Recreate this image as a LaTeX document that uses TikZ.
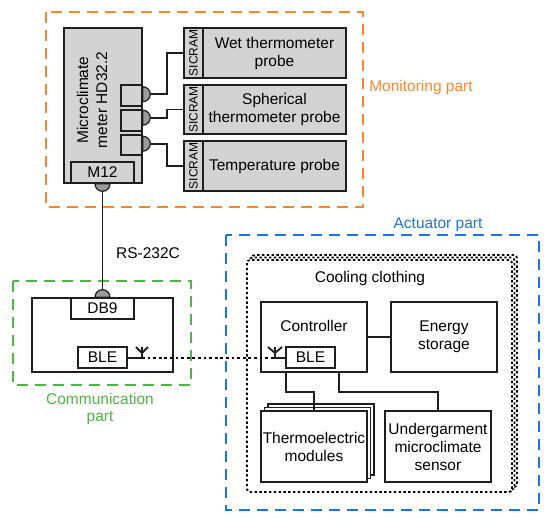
\documentclass[tikz,border=0pt]{standalone}
\usepackage{fontspec}
\setmainfont{Liberation Sans}
\usetikzlibrary{calc}
\definecolor{morange}{RGB}{247,135,45}
\definecolor{mgreen}{RGB}{75,182,65}
\definecolor{mblue}{RGB}{30,118,212}
\definecolor{boxgray}{RGB}{211,211,211}
\definecolor{plug}{RGB}{155,155,155}
\definecolor{ink}{RGB}{30,30,30}
\tikzset{
  blk/.style={draw=ink, line width=1.6pt, inner sep=0pt, align=center},
  gbox/.style={blk, fill=boxgray},
  wbox/.style={blk, fill=white},
  txt/.style={inner sep=0pt, align=center},
  sic/.style={gbox, font=\fontsize{12}{13}\selectfont},
  grp/.style={line width=2pt, dash pattern=on 11pt off 7pt},
  wire/.style={draw=ink, line width=1.8pt},
  radio/.style={draw=black, line width=1.8pt, dash pattern=on 2.8pt off 2.8pt},
  cloth/.style={draw=black, line width=1.8pt, dash pattern=on 2.4pt off 2.4pt, rounded corners=3pt, fill=white},
  plugfill/.style={fill=plug, draw=ink, line width=1.2pt},
}
\begin{document}
\begin{tikzpicture}[x=1pt, y=-1pt, font=\fontsize{15.5}{18}\selectfont]
\useasboundingbox (0,0) rectangle (550,523);

% ---------------- group frames
\draw[grp, draw=morange] (46,12) rectangle (363,207);
\draw[grp, draw=mgreen] (13,281) rectangle (191,385);
\draw[grp, draw=mblue] (226,235) rectangle (539,510);

\node[txt, text=morange] (monlbl) at (421,87) {Monitoring part};
\node[txt, text=mgreen, font=\fontsize{15.5}{17}\selectfont] (comlbl) at (100,409) {Communication\\part};
\node[txt, text=mblue] (actlbl) at (438,225) {Actuator part};

% ---------------- monitoring part
\node[gbox, minimum width=78pt, minimum height=155pt] (meter) at (103,105.5) {};
\node[txt, rotate=90, font=\fontsize{15.5}{19}\selectfont] (metertxt) at (92,100) {Microclimate\\meter HD32.2};
\node[gbox, minimum width=63pt, minimum height=21pt] (m12) at (102.5,172.5) {M12};

\node[gbox, minimum width=21pt, minimum height=21pt] (c1) at (131.5,95.5) {};
\node[gbox, minimum width=21pt, minimum height=21pt] (c2) at (131.5,120.5) {};
\node[gbox, minimum width=21pt, minimum height=20pt] (c3) at (131.5,145) {};

\node[gbox, minimum width=143pt, minimum height=50pt] (p1) at (274.5,53) {Wet thermometer\\probe};
\node[gbox, minimum width=143pt, minimum height=49pt] (p2) at (274.5,109.5) {Spherical\\thermometer probe};
\node[gbox, minimum width=143pt, minimum height=50pt] (p3) at (274.5,166) {Temperature probe};
\node[sic, minimum width=19pt, minimum height=50pt] (st1) at (193.5,53) {};
\node[sic, minimum width=19pt, minimum height=49pt] (st2) at (193.5,109.5) {};
\node[sic, minimum width=19pt, minimum height=50pt] (st3) at (193.5,166) {};
\node[txt, rotate=90, font=\fontsize{12}{13}\selectfont] at (st1) {SICRAM};
\node[txt, rotate=90, font=\fontsize{12}{13}\selectfont] at (st2) {SICRAM};
\node[txt, rotate=90, font=\fontsize{12}{13}\selectfont] at (st3) {SICRAM};

% plugs on the meter
\draw[plugfill] (c1.north east) ++(0,2.5) arc[start angle=-90, end angle=90, radius=7.5] -- cycle;
\draw[plugfill] (c2.north east) ++(0,1) arc[start angle=-90, end angle=90, radius=7.5] -- cycle;
\draw[plugfill] (c3.north east) ++(0,2) arc[start angle=-90, end angle=90, radius=7.5] -- cycle;
\coordinate (s1) at ($(c1.north east)+(7.5,10)$);
\coordinate (s2) at ($(c2.north east)+(7.5,8.5)$);
\coordinate (s3) at ($(c3.north east)+(7.5,9.5)$);
\draw[wire] (s1) -- ++(16.5,0) |- (st1.west);
\draw[wire] (s2) -- ++(16.5,0) |- (st2.west);
\draw[wire] (s3) -- ++(16.5,0) |- (st3.west);

% ---------------- communication part
\node[wbox, minimum width=141pt, minimum height=74pt] (comm) at (102.5,335) {};
\node[wbox, minimum width=63pt, minimum height=21pt] (db9) at (102.5,308.5) {DB9};
\node[wbox, minimum width=49pt, minimum height=21pt] (ble1) at (102.5,357.5) {BLE};

\draw[plugfill] ($(m12.south)+(-7.5,0)$) arc[start angle=180, end angle=0, radius=7.5] -- cycle;
\draw[plugfill] ($(db9.north)+(-7.5,0)$) arc[start angle=180, end angle=360, radius=7.5] -- cycle;
\coordinate (m12tip) at ($(m12.south)+(0,7.5)$);
\coordinate (db9tip) at ($(db9.north)+(0,-7.5)$);
\draw[wire] (m12tip) -- (db9tip);
\node[txt] (rs) at (148,253) {RS-232C};

% antenna of communication part
\coordinate (ant1) at (142,358);
\draw[wire] (ble1.east |- ant1) -- (ant1) -- ++(0,-11);
\draw[wire] (136,347) -- (142,353) -- (148,347);

% ---------------- actuator part
\draw[cloth] (252,255) rectangle (517,487);
\draw[cloth] (249.5,257.5) rectangle (514.5,489.5);
\draw[cloth] (247,260) rectangle (512,492);
\node[txt] (cool) at (370,278) {Cooling clothing};

\node[wbox, minimum width=106pt, minimum height=70pt] (ctrl) at (314,337) {};
\node[txt] (ctrltxt) at (314,326) {Controller};
\node[wbox, minimum width=49pt, minimum height=21pt] (ble2) at (310.5,357.5) {BLE};
\node[wbox, minimum width=106pt, minimum height=70pt] (energy) at (444,337) {Energy\\storage};
\draw[wire] (ctrl) -- (energy);

% antenna of controller
\coordinate (ant2) at (275,358);
\draw[wire] (ble2.west |- ant2) -- (ant2) -- ++(0,-11);
\draw[wire] (268,347) -- (275,353) -- (282,347);
\draw[radio] (ant1) -- (ant2);

% thermoelectric modules (stack)
\node[wbox, minimum width=106pt, minimum height=71pt] (th3) at (321,439.5) {};
\node[wbox, minimum width=106pt, minimum height=71pt] (th2) at (317.5,443) {};
\node[wbox, minimum width=106pt, minimum height=71pt] (thermo) at (314,446.5) {Thermoelectric\\modules};
\node[wbox, minimum width=106pt, minimum height=71pt] (under) at (438,446.5) {Undergarment\\microclimate\\sensor};
\draw[wire] ($(ctrl.south west)+(26,0)$) -- ++(0,19) -| (thermo.north);
\draw[wire] ($(ctrl.south west)+(79,0)$) -- ++(0,19) -| (under.north);
\end{tikzpicture}
\end{document}
